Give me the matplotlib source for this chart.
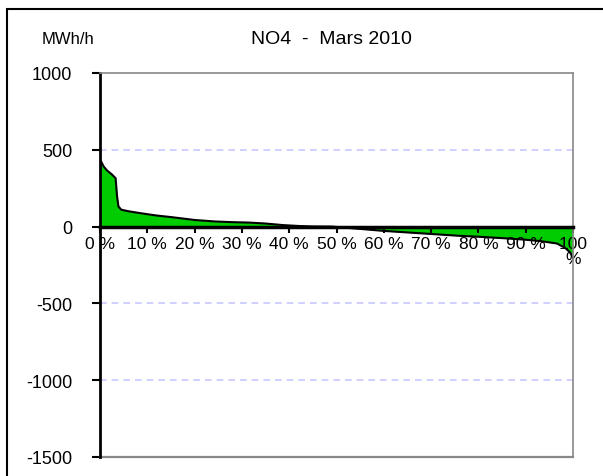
import matplotlib
matplotlib.use("Agg")
import matplotlib.pyplot as plt
import matplotlib.patches as patches
import numpy as np

plt.rcParams['font.family'] = ['Liberation Sans', 'DejaVu Sans']

# duration curve (percent of hours, MWh/h)
pct = [0, 0.3, 0.8, 1.5, 2.5, 3.3, 3.6, 3.9, 4.5, 6, 8, 10.4, 12, 15, 17.4, 20,
       24.5, 28, 31.6, 35, 38.6, 42, 45, 49, 55, 60, 65, 70, 76, 80, 85, 89.4,
       93, 96.6, 98.3, 99.3, 100]
flow = [434, 420, 390, 365, 340, 315, 200, 131, 110, 100, 90, 79, 72, 62, 53, 43,
        33, 29, 26, 20, 10, 4, 1, 0, -15, -28, -38, -48, -60, -66, -75, -84,
        -94, -110, -138, -165, -200]

xticks = [0, 10, 20, 30, 40, 50, 60, 70, 80, 90, 100]
xlabels = ['0 %', '10 %', '20 %', '30 %', '40 %', '50 %', '60 %', '70 %', '80 %', '90 %', '100\n%']
yticks = [-1500, -1000, -500, 0, 500, 1000]

fig = plt.figure(figsize=(6.03, 4.77), dpi=100)
ax = fig.add_axes([100/603, 1-458/477, 473/603, 384/477])

# spine moved first: it resets the tick settings
ax.spines['bottom'].set_position(('data', 0))

x = np.array(pct)
y = np.array(flow)
ax.fill_between(x, y, 0, color='#00cc00', lw=0)
ax.plot(x, y, color='black', lw=1.5)

ax.set_xlim(0, 100)
ax.set_ylim(-1500, 1000)
ax.set_yticks(yticks)
ax.set_yticklabels([str(v) for v in yticks])
ax.set_xticks(xticks)
ax.set_xticklabels(xlabels, linespacing=1.0)

for v in [500, -500, -1000]:
    ax.axhline(v, color='#c8c8ff', lw=1.2, ls=(0, (4, 3)), zorder=0)

ax.spines['bottom'].set_linewidth(2.5)
ax.spines['left'].set_linewidth(2)
ax.spines['top'].set_color('#888888')
ax.spines['right'].set_color('#888888')
ax.spines['top'].set_linewidth(1.2)
ax.spines['right'].set_linewidth(1.2)
ax.axhline(-1500, color='#888888', lw=1.6, clip_on=False)
ax.spines['bottom'].set_zorder(5)

ax.tick_params(axis='y', direction='out', length=6, width=1.5, pad=14, labelsize=13)
ax.tick_params(axis='x', direction='out', length=4, width=1.5, pad=3, labelsize=12.5)

fig.text(331/603, 1-40/477, 'NO4  -  Mars 2010', fontsize=14, ha='center', va='center')
fig.text(42/603, 1-40/477, 'MWh/h', fontsize=12, ha='left', va='center')

# outer frame, cut off at right and bottom
fig.patches.append(patches.Rectangle((7/603, -0.1), 1.2, 1-10/477+0.1,
                                     transform=fig.transFigure, fill=False,
                                     edgecolor='black', lw=1.5))

fig.savefig('out.png', dpi=100)
